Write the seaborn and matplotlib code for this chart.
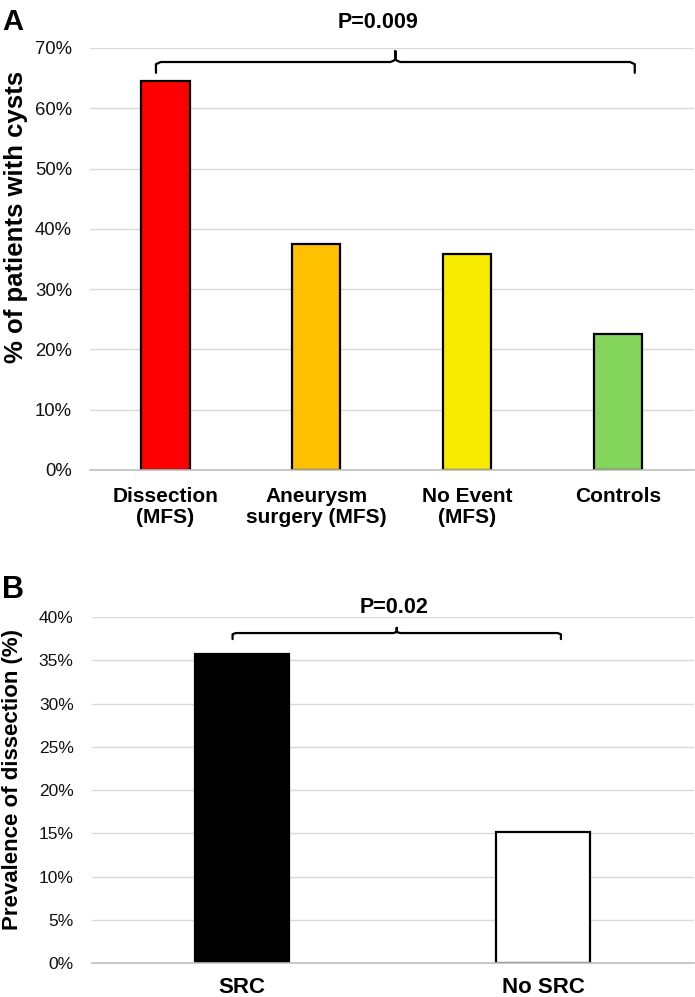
import matplotlib
matplotlib.use("Agg")
import matplotlib.pyplot as plt
from matplotlib.ticker import PercentFormatter, MultipleLocator
import seaborn as sns

# panel A data
groups_a = ['Dissection\n(MFS)', 'Aneurysm\nsurgery (MFS)', 'No Event\n(MFS)', 'Controls']
cysts_a = [0.645, 0.375, 0.359, 0.226]
colors_a = ['#ff0000', '#ffc000', '#f7eb00', '#84d55c']

# panel B data
groups_b = ['SRC', 'No SRC']
dissection_b = [0.357, 0.151]
colors_b = ['#000000', '#ffffff']

sns.set_theme(style='white')
plt.rcParams['font.family'] = ['Liberation Sans', 'DejaVu Sans']
plt.rcParams['text.color'] = 'black'

fig = plt.figure(figsize=(6.95, 9.97), dpi=100)
ax_a = fig.add_axes([0.1295, 0.5286, 0.8685, 0.4233])
ax_b = fig.add_axes([0.132, 0.0341, 0.866, 0.347])


def style_axis(ax, n, top, step, tick_size):
    ax.set_xlim(-0.5, n - 0.5)
    ax.set_ylim(0, top)
    ax.yaxis.set_major_locator(MultipleLocator(step))
    ax.yaxis.set_major_formatter(PercentFormatter(1.0, decimals=0))
    ax.grid(axis='y', color='#d9d9d9', linewidth=1.0)
    ax.set_axisbelow(True)
    for s in ['top', 'right', 'left']:
        ax.spines[s].set_visible(False)
    ax.spines['bottom'].set_color('#bfbfbf')
    ax.spines['bottom'].set_linewidth(1.2)
    ax.spines['bottom'].set_zorder(5)
    ax.tick_params(axis='both', length=0, labelcolor='black')
    ax.tick_params(axis='y', labelsize=tick_size, pad=13, labelcolor='#111111')
    ax.set_xlabel('')
    ax.set_ylabel('')


def brace(ax, x0, x1, y, drop, notch, xmid=None):
    if xmid is None:
        xmid = (x0 + x1) / 2
    r = 0.01 * (x1 - x0)
    xs = [x0, x0, x0 + r, xmid - r, xmid, xmid, xmid, xmid + r, x1 - r, x1, x1]
    ys = [y - drop, y - drop * 0.2, y, y, y + notch * 0.2, y + notch, y + notch * 0.2, y, y, y - drop * 0.2, y - drop]
    ax.plot(xs, ys, color='black', lw=1.6, clip_on=False, solid_joinstyle='round')


# ---- A ----
sns.barplot(x=groups_a, y=cysts_a, hue=groups_a, palette=colors_a, legend=False,
            saturation=1, width=0.32, edgecolor='black', linewidth=1.6, ax=ax_a)
style_axis(ax_a, len(groups_a), 0.7, 0.1, 13.3)
ax_a.tick_params(axis='x', labelsize=15, pad=12)
for t in ax_a.get_xticklabels():
    t.set_fontweight('bold')
    t.set_linespacing(1.15)
brace(ax_a, -0.063, 3.11, 0.6767, 0.018, 0.018)
ax_a.text(1.41, 0.7414, 'P=0.009', ha='center', va='center', fontsize=15.5,
          fontweight='bold', clip_on=False)

# ---- B ----
sns.barplot(x=groups_b, y=dissection_b, hue=groups_b, palette=colors_b, legend=False,
            saturation=1, width=0.312, edgecolor='black', linewidth=1.6, ax=ax_b)
style_axis(ax_b, len(groups_b), 0.4, 0.05, 12.5)
ax_b.tick_params(axis='x', labelsize=16, pad=10)
for t in ax_b.get_xticklabels():
    t.set_fontweight('bold')
brace(ax_b, -0.032, 1.059, 0.3815, 0.007, 0.006)
ax_b.text(0.504, 0.4116, 'P=0.02', ha='center', va='center', fontsize=15.5,
          fontweight='bold', clip_on=False)

# y labels and panel letters
fig.text(0.023, 0.782, '% of patients with cysts', rotation=90, ha='center', va='center',
         fontsize=18.5, fontweight='bold')
fig.text(0.018, 0.218, 'Prevalence of dissection (%)', rotation=90, ha='center', va='center',
         fontsize=16, fontweight='bold')
fig.text(0.003, 0.992, 'A', ha='left', va='top', fontsize=21, fontweight='bold')
fig.text(0.003, 0.423, 'B', ha='left', va='top', fontsize=22, fontweight='bold')

fig.savefig('out.png', dpi=100)
